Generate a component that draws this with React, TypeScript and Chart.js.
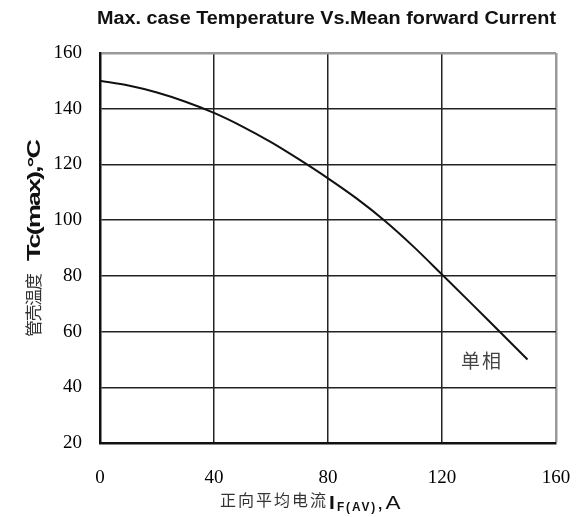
import React, { useEffect, useRef } from 'react';
import { Chart, registerables } from 'chart.js';

Chart.register(...registerables);

// ---- data ----
const TITLE = 'Max. case Temperature Vs.Mean forward Current';
const currentA = [0, 10, 20, 30, 40, 50, 60, 70, 80, 90, 100, 110, 120, 130, 140, 150];
const caseTempC = [150, 148.3, 145.8, 142.5, 138.5, 133.6, 128.0, 121.7, 115.0, 107.8, 99.7, 90.5, 80.5, 70.4, 60.2, 50.0];
const xTickValues = [0, 40, 80, 120, 160];
const yTickValues = [20, 40, 60, 80, 100, 120, 140, 160];
const SERIES_LABEL = '单相';
const SERIES_LABEL_X = 134;
const SERIES_LABEL_Y = 49.5;
const Y_TITLE_CJK = '管壳温度';
const Y_TITLE_LATIN = 'Tc(max),°C';
const X_TITLE_CJK = '正向平均电流';
const X_TITLE_MAIN = 'I';
const X_TITLE_SUB = 'F(AV)';
const X_TITLE_TAIL = ',A';

const SANS = '"Liberation Sans", Arial, sans-serif';
const SERIF = '"Liberation Serif", "Times New Roman", serif';
const CJK = '"Noto Sans CJK SC", sans-serif';

function drawScaled(ctx: CanvasRenderingContext2D, text: string, x: number, y: number, width: number) {
  const w = ctx.measureText(text).width;
  ctx.save();
  ctx.translate(x, y);
  ctx.scale(width / w, 1);
  ctx.fillText(text, 0, 0);
  ctx.restore();
}

function drawSpaced(ctx: CanvasRenderingContext2D, text: string, x: number, y: number, width: number) {
  const w = ctx.measureText(text).width;
  const n = Array.from(text).length;
  const anyCtx = ctx as any;
  if ('letterSpacing' in anyCtx && n > 1) {
    const prev = anyCtx.letterSpacing;
    anyCtx.letterSpacing = ((width - w) / (n - 1)).toFixed(2) + 'px';
    ctx.fillText(text, x, y);
    anyCtx.letterSpacing = prev;
  } else {
    drawScaled(ctx, text, x, y, width);
  }
}

const textPlugin = {
  id: 'textPlugin',
  afterDraw(chart: any) {
    const ctx: CanvasRenderingContext2D = chart.ctx;
    const ca = chart.chartArea;
    ctx.save();
    ctx.textAlign = 'left';
    ctx.textBaseline = 'alphabetic';

    // title
    ctx.fillStyle = '#111';
    ctx.font = `bold 18px ${SANS}`;
    drawScaled(ctx, TITLE, ca.left - 3, ca.top - 29, ca.right - ca.left + 3);

    // x axis title
    const xb = ca.bottom + 65;
    ctx.fillStyle = '#333';
    ctx.font = `16px ${CJK}`;
    drawSpaced(ctx, X_TITLE_CJK, ca.left + 120, ca.bottom + 63, 106);
    ctx.fillStyle = '#111';
    ctx.font = `bold 19px ${SANS}`;
    drawScaled(ctx, X_TITLE_MAIN, ca.left + 229, xb + 1, 8);
    ctx.font = `bold 13px ${SANS}`;
    drawScaled(ctx, X_TITLE_SUB, ca.left + 237, xb + 3, 40);
    ctx.font = `19px ${SANS}`;
    drawScaled(ctx, X_TITLE_TAIL, ca.left + 277, xb + 1, 26);

    // y axis title (rotated)
    ctx.save();
    ctx.translate(ca.left - 60, ca.bottom - 106);
    ctx.rotate(-Math.PI / 2);
    ctx.fillStyle = '#333';
    ctx.font = `17px ${CJK}`;
    drawSpaced(ctx, Y_TITLE_CJK, 0, 0, 72);
    ctx.fillStyle = '#111';
    ctx.font = `bold 18px ${SANS}`;
    drawScaled(ctx, Y_TITLE_LATIN, 76, 0, 120);
    ctx.restore();

    // series label
    const px = chart.scales.x.getPixelForValue(SERIES_LABEL_X);
    const py = chart.scales.y.getPixelForValue(SERIES_LABEL_Y);
    ctx.fillStyle = '#444';
    ctx.font = `19px ${CJK}`;
    ctx.textAlign = 'center';
    ctx.textBaseline = 'middle';
    ctx.fillText(SERIES_LABEL, px, py);
    ctx.restore();
  },
};

export default function App() {
  const canvasRef = useRef<HTMLCanvasElement | null>(null);

  useEffect(() => {
    if (!canvasRef.current) return;
    const edgeX = xTickValues[xTickValues.length - 1];
    const edgeY = yTickValues[yTickValues.length - 1];
    const chart = new Chart(canvasRef.current, {
      type: 'line',
      data: {
        datasets: [
          {
            label: SERIES_LABEL,
            data: currentA.map((x, i) => ({ x, y: caseTempC[i] })),
            borderColor: '#111',
            borderWidth: 2,
            pointRadius: 0,
            cubicInterpolationMode: 'monotone',
            fill: false,
          },
        ],
      },
      options: {
        responsive: false,
        animation: false,
        layout: { padding: { top: 53, right: 23, left: 0, bottom: 0 } },
        plugins: {
          legend: { display: false },
          title: { display: false },
          tooltip: { enabled: false },
        },
        scales: {
          x: {
            type: 'linear',
            min: xTickValues[0],
            max: edgeX,
            afterBuildTicks: (s: any) => {
              s.ticks = xTickValues.map((v) => ({ value: v }));
            },
            afterFit: (s: any) => {
              s.height = 74;
              s.paddingLeft = 0;
              s.paddingRight = 0;
            },
            grid: {
              drawTicks: false,
              color: (c: any) => (c.tick && c.tick.value === edgeX ? '#9a9a9a' : '#222'),
              lineWidth: (c: any) => (c.tick && c.tick.value === edgeX ? 2.5 : 1.5),
            },
            border: { display: true, color: '#111', width: 2.5 },
            ticks: {
              padding: 24,
              color: '#000',
              font: { family: SERIF, size: 19 },
              maxRotation: 0,
            },
          },
          y: {
            type: 'linear',
            min: yTickValues[0],
            max: edgeY,
            afterBuildTicks: (s: any) => {
              s.ticks = yTickValues.map((v) => ({ value: v }));
            },
            afterFit: (s: any) => {
              s.width = 100;
              s.paddingTop = 0;
              s.paddingBottom = 0;
            },
            grid: {
              drawTicks: false,
              color: (c: any) => (c.tick && c.tick.value === edgeY ? '#9a9a9a' : '#222'),
              lineWidth: (c: any) => (c.tick && c.tick.value === edgeY ? 2.5 : 1.5),
            },
            border: { display: true, color: '#111', width: 2.5 },
            ticks: {
              padding: 18,
              color: '#000',
              font: { family: SERIF, size: 19 },
            },
          },
        },
      },
      plugins: [textPlugin],
    } as any);
    return () => chart.destroy();
  }, []);

  return (
    <div style={{ position: 'fixed', left: 0, top: 0, width: 579, height: 517, background: '#fff' }}>
      <canvas ref={canvasRef} width={579} height={517} style={{ display: 'block' }} />
    </div>
  );
}
